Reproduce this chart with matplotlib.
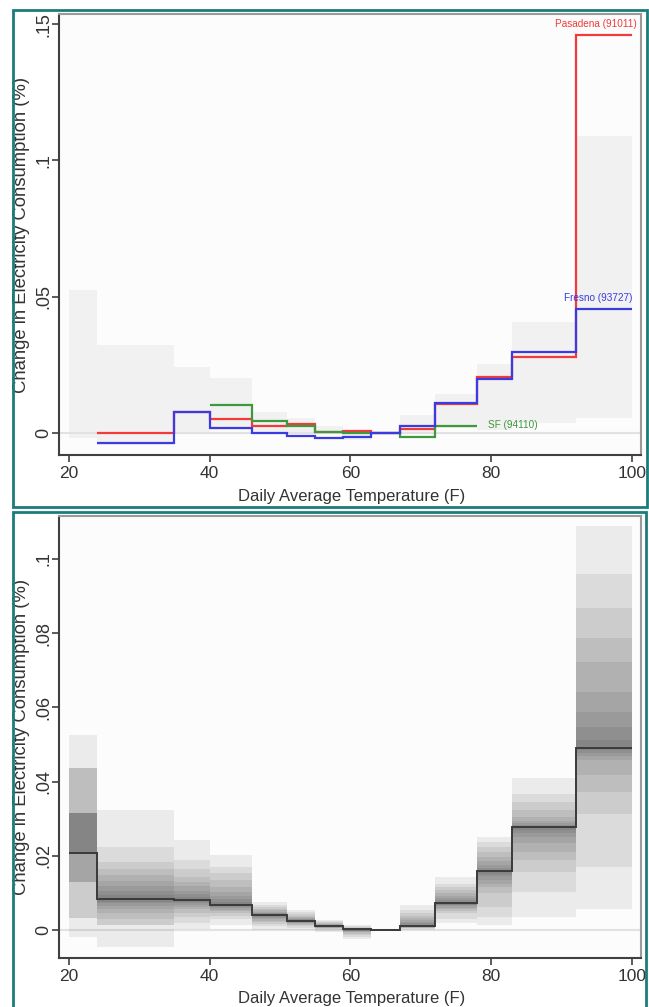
import matplotlib
matplotlib.use('Agg')
import matplotlib.pyplot as plt
from matplotlib.patches import Rectangle

plt.rcParams['font.family'] = 'Liberation Sans'

# temperature bins (F)
bin_edges = [20, 24, 35, 40, 46, 51, 55, 59, 63, 67, 72, 78, 83, 92, 100]

# top panel: city step lines
pasadena_edges = bin_edges[1:]
pasadena = [0.0000, 0.0077, 0.0052, 0.0028, 0.0032, 0.0005, 0.0008, 0.0002,
            0.0014, 0.0106, 0.0205, 0.0278, 0.1460]
fresno_edges = bin_edges[1:]
fresno = [-0.0035, 0.0077, 0.0018, 0.0000, -0.0009, -0.0018, -0.0015, 0.0002,
          0.0026, 0.0111, 0.0197, 0.0296, 0.0455]
sf_edges = bin_edges[3:12]
sf = [0.0104, 0.0043, 0.0026, 0.0003, 0.0001, 0.0002, -0.0013, 0.0027]

# bottom panel: median estimate per bin
median = [0.0207, 0.0083, 0.0081, 0.0067, 0.0040, 0.0025, 0.0011, 0.0002,
          0.0000, 0.0012, 0.0072, 0.0159, 0.0277, 0.0492]

# nested bands, outermost first (one list per bin)
band_hi = [
    [0.0526, 0.0436, 0.0436, 0.0436, 0.0315, 0.0315, 0.0315, 0.0315, 0.0315],
    [0.0323, 0.0225, 0.0184, 0.0165, 0.0148, 0.0133, 0.0118, 0.0105, 0.0095],
    [0.0243, 0.0190, 0.0166, 0.0144, 0.0130, 0.0118, 0.0106, 0.0097, 0.0090],
    [0.0202, 0.0170, 0.0153, 0.0135, 0.0117, 0.0104, 0.0093, 0.0083, 0.0076],
    [0.0076, 0.0068, 0.0062, 0.0057, 0.0053, 0.0050, 0.0047, 0.0045, 0.0043],
    [0.0054, 0.0048, 0.0043, 0.0039, 0.0036, 0.0033, 0.0031, 0.0029, 0.0027],
    [0.0027, 0.0024, 0.0021, 0.0019, 0.0017, 0.0016, 0.0014, 0.0013, 0.0012],
    [0.0013, 0.0010, 0.0008, 0.0007, 0.0006, 0.0005, 0.0004, 0.0003, 0.0003],
    [0.0003, 0.0002, 0.0002, 0.0001, 0.0001, 0.0001, 0.0001, 0.0001, 0.0001],
    [0.0067, 0.0055, 0.0046, 0.0038, 0.0032, 0.0027, 0.0022, 0.0018, 0.0015],
    [0.0144, 0.0125, 0.0117, 0.0108, 0.0100, 0.0093, 0.0086, 0.0080, 0.0076],
    [0.0252, 0.0238, 0.0225, 0.0210, 0.0197, 0.0186, 0.0176, 0.0168, 0.0163],
    [0.0409, 0.0368, 0.0346, 0.0325, 0.0305, 0.0295, 0.0288, 0.0283, 0.0280],
    [0.1089, 0.0961, 0.0867, 0.0786, 0.0723, 0.0642, 0.0588, 0.0548, 0.0512],
]
band_lo = [
    [-0.0018, 0.0032, 0.0032, 0.0130, 0.0130, 0.0130, 0.0207, 0.0207, 0.0207],
    [-0.0045, 0.0013, 0.0013, 0.0030, 0.0045, 0.0058, 0.0066, 0.0072, 0.0077],
    [0.0004, 0.0020, 0.0035, 0.0047, 0.0056, 0.0063, 0.0069, 0.0074, 0.0077],
    [0.0013, 0.0031, 0.0038, 0.0045, 0.0051, 0.0055, 0.0059, 0.0062, 0.0064],
    [0.0000, 0.0010, 0.0016, 0.0021, 0.0026, 0.0029, 0.0032, 0.0035, 0.0037],
    [0.0000, 0.0006, 0.0010, 0.0013, 0.0016, 0.0018, 0.0020, 0.0022, 0.0023],
    [-0.0004, 0.0000, 0.0003, 0.0005, 0.0006, 0.0007, 0.0008, 0.0009, 0.0010],
    [-0.0025, -0.0018, -0.0013, -0.0009, -0.0006, -0.0004, -0.0002, -0.0001, 0.0000],
    [-0.0003, -0.0002, -0.0002, -0.0001, -0.0001, -0.0001, -0.0001, -0.0001, -0.0001],
    [0.0000, 0.0003, 0.0005, 0.0006, 0.0007, 0.0008, 0.0009, 0.0010, 0.0011],
    [0.0018, 0.0030, 0.0045, 0.0052, 0.0057, 0.0061, 0.0064, 0.0067, 0.0069],
    [0.0013, 0.0036, 0.0063, 0.0099, 0.0115, 0.0125, 0.0135, 0.0145, 0.0152],
    [0.0036, 0.0103, 0.0157, 0.0189, 0.0211, 0.0234, 0.0250, 0.0261, 0.0270],
    [0.0056, 0.0171, 0.0314, 0.0373, 0.0418, 0.0458, 0.0470, 0.0478, 0.0485],
]

top_yticks = [0, 0.05, 0.1, 0.15]
top_ylabels = ['0', '.05', '.1', '.15']
bot_yticks = [0, 0.02, 0.04, 0.06, 0.08, 0.1]
bot_ylabels = ['0', '.02', '.04', '.06', '.08', '.1']
xticks = [20, 40, 60, 80, 100]

TEAL = '#1c7b7c'
DARK = '#404040'
W, H = 649, 1007

fig = plt.figure(figsize=(W / 100, H / 100), dpi=100)
ax1 = fig.add_axes([59 / W, 1 - 455 / H, 582 / W, 441 / H])
ax2 = fig.add_axes([59 / W, 1 - 958 / H, 582 / W, 442 / H])

n_levels = len(band_hi[0])
levels_hi = [[b[k] for b in band_hi] for k in range(n_levels)]
levels_lo = [[b[k] for b in band_lo] for k in range(n_levels)]

# top panel
ax1.stairs(levels_hi[0], bin_edges, baseline=levels_lo[0], fill=True,
           color='#f1f1f1', lw=0, zorder=1)
ax1.axhline(0, color='#e2e2e2', lw=1.5, zorder=1.5)
ax1.stairs(pasadena, pasadena_edges, baseline=None, color='#f23a3a', lw=1.6, zorder=3)
ax1.stairs(sf, sf_edges, baseline=None, color='#3e983e', lw=1.6, zorder=3)
ax1.stairs(fresno, fresno_edges, baseline=None, color='#3b3be2', lw=1.6, zorder=4)
ax1.text(100.7, 0.1502, 'Pasadena (91011)', color='#f23a3a', fontsize=7.2,
         ha='right', va='center')
ax1.text(100.1, 0.0497, 'Fresno (93727)', color='#3b3be2', fontsize=7.2,
         ha='right', va='center')
ax1.text(79.6, 0.0029, 'SF (94110)', color='#3e983e', fontsize=7.2,
         ha='left', va='center')
ax1.set_ylim(-0.008, 0.1537)
ax1.set_yticks(top_yticks)
ax1.set_yticklabels(top_ylabels)

# bottom panel
for k in range(n_levels):
    ax2.stairs(levels_hi[k], bin_edges, baseline=levels_lo[k], fill=True,
               color='black', alpha=0.065, lw=0, zorder=1)
ax2.axhline(0, color='#e2e2e2', lw=1.5, zorder=0.5)
ax2.stairs(median, bin_edges, baseline=None, color='#3a3a3a', lw=1.4, zorder=3)
ax2.set_ylim(-0.0075, 0.1116)
ax2.set_yticks(bot_yticks)
ax2.set_yticklabels(bot_ylabels)

for ax, lab_y in [(ax1, -0.095), (ax2, -0.0905)]:
    ax.set_facecolor('#fcfcfc')
    ax.set_xlim(18.6, 101.3)
    ax.set_xticks(xticks)
    ax.set_xticklabels([str(t) for t in xticks])
    ax.tick_params(axis='x', direction='out', length=5, width=1.2,
                   color=DARK, labelcolor='#333333', labelsize=12.5, pad=3)
    ax.tick_params(axis='y', direction='out', length=5, width=1.2,
                   color=DARK, labelcolor='#333333', labelsize=13, pad=0,
                   labelrotation=90)
    for t in ax.get_yticklabels():
        t.set_va('center')
    for s in ['left', 'bottom']:
        ax.spines[s].set_color(DARK)
        ax.spines[s].set_linewidth(1.5)
    for s in ['top', 'right']:
        ax.spines[s].set_color('#9a9a9a')
        ax.spines[s].set_linewidth(1.5)
    ax.set_xlabel('Daily Average Temperature (F)', fontsize=12, color='#333333',
                  va='center')
    ax.set_ylabel('Change in Electricity Consumption (%)', fontsize=13.3,
                  color='#333333', va='center')
    ax.xaxis.set_label_coords(0.503, lab_y)
    ax.yaxis.set_label_coords(-0.064, 0.5)

# teal frames round each panel
fig.patches.append(Rectangle((13 / W, 1 - 507 / H), 634 / W, 497 / H,
                             transform=fig.transFigure, fill=False,
                             edgecolor=TEAL, lw=2))
fig.patches.append(Rectangle((13 / W, 1 - 1012 / H), 633 / W, 500 / H,
                             transform=fig.transFigure, fill=False,
                             edgecolor=TEAL, lw=2))

fig.savefig('out.png', dpi=100)
